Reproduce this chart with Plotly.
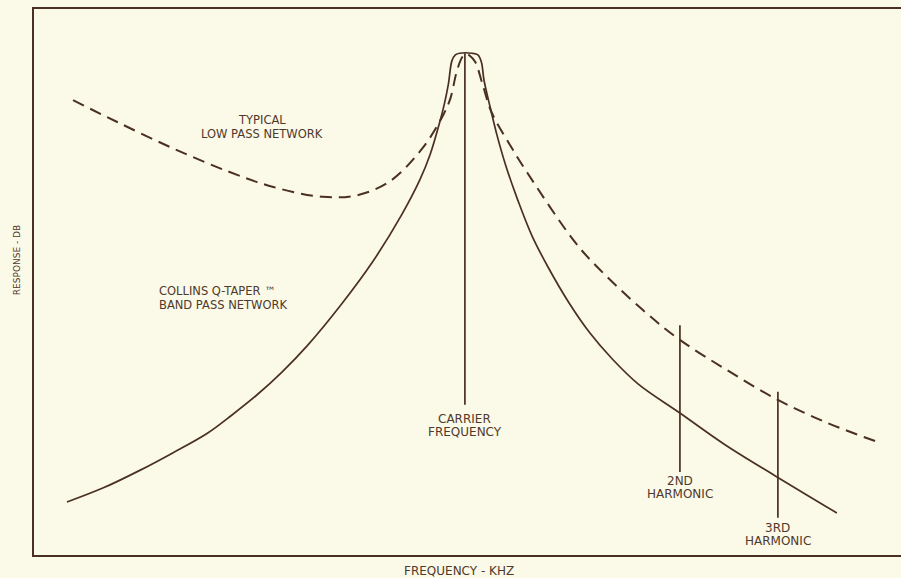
import plotly.graph_objects as go

# Frequency (relative units, 0-100) and response (relative units, 0-100)
bp_freq = [3.8, 8.0, 12.2, 16.0, 20.0, 22.8, 25.7, 28.6, 31.5, 35.3, 39.1, 42.4, 44.5, 45.7,
           46.8, 47.3, 47.8, 48.2, 48.6, 49.1, 50.5, 51.2, 51.6, 51.9, 52.6, 53.4, 54.4,
           55.8, 57.4, 59.3, 61.7, 64.1, 66.7, 69.7, 74.5, 79.7, 85.7, 92.6]
bp_resp = [9.7, 12.3, 15.5, 18.7, 22.3, 25.6, 29.3, 33.5, 38.3, 45.6, 53.8, 62.3, 68.7, 73.4,
           79.3, 82.4, 86.3, 90.5, 91.6, 91.9, 91.9, 91.6, 90.3, 87.0, 82.1, 76.9, 71.4,
           65.0, 58.6, 52.7, 46.2, 40.7, 35.9, 31.3, 26.0, 20.2, 14.3, 7.7]

lp_freq = [4.5, 9.6, 16.0, 22.3, 27.6, 33.3, 37.3, 41.1, 44.9, 47.2, 48.0, 48.8, 49.4, 49.8,
           50.3, 50.9, 51.7, 52.8, 54.9, 56.9, 62.2, 64.5, 70.2, 74.5, 79.9, 85.8, 91.5, 97.3]
lp_resp = [83.3, 79.3, 74.5, 70.3, 67.4, 65.6, 65.9, 68.5, 74.7, 80.6, 83.5, 88.8, 91.2, 91.8,
           91.4, 90.3, 86.4, 81.0, 75.1, 70.0, 57.7, 53.5, 44.9, 39.4, 33.9, 28.4, 24.2, 20.7]

marker_lines = [["CARRIER", "FREQUENCY"], ["2ND", "HARMONIC"], ["3RD", "HARMONIC"]]
marker_freq = [49.7, 74.5, 85.8]
marker_top = [91.9, 42.1, 29.9]
marker_bottom = [27.5, 15.2, 6.8]
marker_label_y = [23.8, 12.3, 3.8]

lp_label_lines = ["TYPICAL", "LOW PASS NETWORK"]
bp_label_lines = ["COLLINS Q-TAPER ™", "BAND PASS NETWORK"]

LINE = "#4a2f24"
TEXT = "#4f392c"
BG = "#fbf9e7"
FONT = "DejaVu Sans, Arial, sans-serif"
FS = 12

fig = go.Figure()
fig.add_trace(go.Scatter(x=bp_freq, y=bp_resp, mode="lines",
                         line=dict(color=LINE, width=1.7, shape="spline", smoothing=1.0),
                         hoverinfo="skip"))
fig.add_trace(go.Scatter(x=lp_freq, y=lp_resp, mode="lines",
                         line=dict(color=LINE, width=2, dash="12px,7px", shape="spline", smoothing=1.0),
                         hoverinfo="skip"))
for f, t, b in zip(marker_freq, marker_top, marker_bottom):
    fig.add_trace(go.Scatter(x=[f, f], y=[b, t], mode="lines",
                             line=dict(color=LINE, width=1.7), hoverinfo="skip"))

annotations = []


def two_lines(lines, x, y, anchor, pitch, size):
    for i, txt in enumerate(lines):
        annotations.append(dict(x=x, y=y, text=txt, xanchor=anchor, yanchor="middle",
                                yshift=(pitch / 2) * (1 if i == 0 else -1),
                                xref="x", yref="y", showarrow=False,
                                font=dict(family=FONT, size=size, color=TEXT)))


two_lines(lp_label_lines, 26.3, 78.4, "center", 13.5, 11.5)
two_lines(bp_label_lines, 14.2, 47.1, "left", 13.5, 11.5)
for lines, f, ly in zip(marker_lines, marker_freq, marker_label_y):
    two_lines(lines, f, ly, "center", 13, FS)

annotations.append(dict(xref="paper", yref="paper", x=0.49, y=0, yanchor="top", yshift=-7,
                        text="FREQUENCY - KHZ", showarrow=False,
                        font=dict(family=FONT, size=FS, color=TEXT)))
annotations.append(dict(xref="paper", yref="paper", x=0, y=0.54, xanchor="right", xshift=-10,
                        text="RESPONSE - DB", textangle=-90, showarrow=False,
                        font=dict(family=FONT, size=9, color=TEXT)))

fig.update_layout(
    width=901, height=578,
    margin=dict(l=34, r=0, t=9, b=23),
    paper_bgcolor=BG, plot_bgcolor=BG,
    showlegend=False,
    annotations=annotations,
    xaxis=dict(range=[0, 100], showgrid=False, zeroline=False, showticklabels=False, ticks="",
               showline=True, mirror=True, linecolor=LINE, linewidth=2),
    yaxis=dict(range=[0, 100], showgrid=False, zeroline=False, showticklabels=False, ticks="",
               showline=True, mirror=False, linecolor=LINE, linewidth=2),
)

fig.write_html("out.html", config={"displayModeBar": False},
               post_script="document.body.style.margin='0';document.body.style.overflow='hidden';")
